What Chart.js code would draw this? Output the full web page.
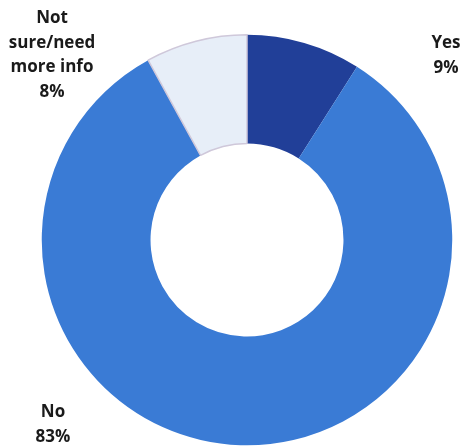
<!DOCTYPE html>
<html>
<head>
<meta charset="utf-8">
<script src="https://cdn.jsdelivr.net/npm/chart.js@4.4.1/dist/chart.umd.min.js"></script>
<style>
  html, body { margin: 0; padding: 0; background: #fff; }
  #wrap { width: 463px; height: 447px; position: relative; }
</style>
</head>
<body>
<div id="wrap"><canvas id="chart"></canvas></div>
<script>
// data
const categories = ['Yes', 'No', 'Not sure/need more info'];
const shares = [9, 83, 8];
const sliceColors = ['#213f98', '#3a7bd5', '#e7eef8'];
const sliceBorders = ['#213f98', '#3a7bd5', '#cfc8da'];

// where each label sits (text only, lines stacked)
const labelBlocks = [
    { lines: ['Yes', shares[0] + '%'], x: 446, y: 43 },
    { lines: ['No', shares[1] + '%'], x: 53, y: 412 },
    { lines: ['Not', 'sure/need', 'more info', shares[2] + '%'], x: 52, y: 18 }
];

const labelPlugin = {
    id: 'outsideLabels',
    afterDraw(chart) {
        const ctx = chart.ctx;
        ctx.save();
        ctx.font = 'bold 17px "Open Sans"';
        ctx.fillStyle = '#1a1a1a';
        ctx.textAlign = 'center';
        ctx.textBaseline = 'middle';
        labelBlocks.forEach(b => {
            b.lines.forEach((t, i) => ctx.fillText(t, b.x, b.y + i * 24.7));
        });
        ctx.restore();
    }
};

new Chart(document.getElementById('chart'), {
    type: 'doughnut',
    data: {
        labels: categories,
        datasets: [{
            data: shares,
            backgroundColor: sliceColors,
            borderColor: sliceBorders,
            borderWidth: [0, 0, 1.5]
        }]
    },
    options: {
        responsive: true,
        maintainAspectRatio: false,
        animation: false,
        cutout: '47%',
        layout: { padding: { left: 41, right: 10, top: 34, bottom: 1 } },
        plugins: {
            legend: { display: false },
            tooltip: { enabled: false }
        }
    },
    plugins: [labelPlugin]
});
</script>
</body>
</html>
